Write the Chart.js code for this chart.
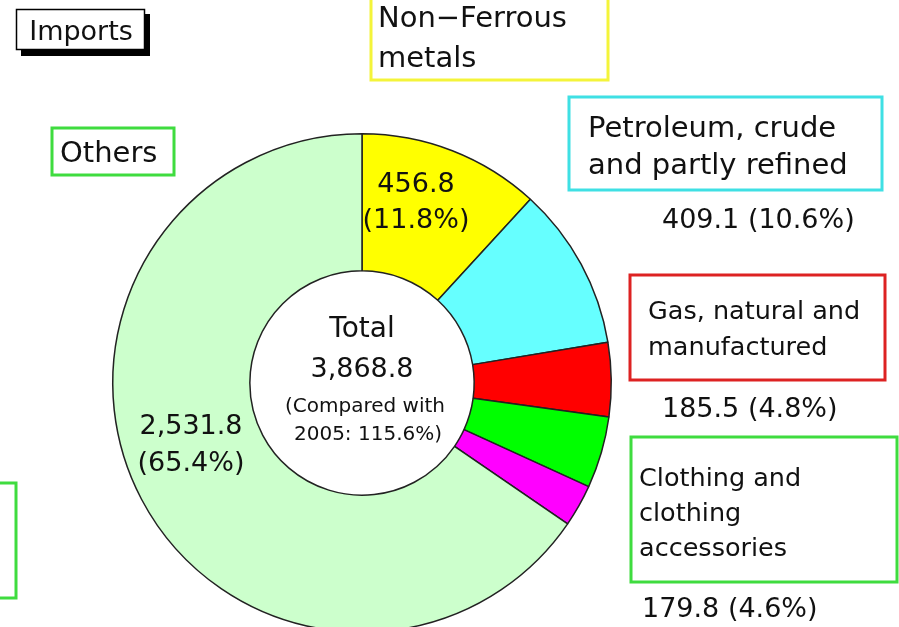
<!DOCTYPE html>
<html>
<head>
<meta charset="utf-8">
<script src="https://cdn.jsdelivr.net/npm/chart.js@4.4.1/dist/chart.umd.min.js"></script>
<style>
  html, body { margin: 0; padding: 0; background: #fff; overflow: hidden; }
  #wrap { position: absolute; left: 0; top: 0; width: 899px; height: 640px; }
</style>
</head>
<body>
<div id="wrap"><canvas id="chart" width="899" height="640"></canvas></div>
<script>
// data (billions)
var categories = ["Non-Ferrous metals", "Petroleum, crude and partly refined",
                  "Gas, natural and manufactured", "Clothing and clothing accessories",
                  "Other items", "Others"];
var values = [456.8, 409.1, 185.5, 179.8, 105.8, 2531.8];
var sliceColors = ["#ffff00", "#66ffff", "#ff0000", "#00ff00", "#ff00ff", "#ccffcc"];
var totalText = "3,868.8";
var comparedText = ["(Compared with", "2005: 115.6%)"];

var FONT = '"DejaVu Sans", "Noto Sans", sans-serif';
var DY = 2; // DejaVu sits a little high with textBaseline middle

function fmt(v) {
  return v.toLocaleString("en-US", {minimumFractionDigits: 1, maximumFractionDigits: 1});
}
function pct(i) {
  var sum = values.reduce(function(a, b) { return a + b; }, 0);
  return (values[i] / sum * 100).toFixed(1) + "%";
}

// callout boxes and text placement
var boxes = [
  {x: 371, y: -6, w: 237, h: 86, color: "#f4f43a", lines: ["Non\u2212Ferrous", "metals"], tx: 378, ty: [17, 57], size: 29},
  {x: 569, y: 97, w: 313, h: 93, color: "#3fe0e4", lines: ["Petroleum, crude", "and partly refined"], tx: 588, ty: [127, 164], size: 29},
  {x: 630, y: 275, w: 255, h: 105, color: "#dd2222", lines: ["Gas, natural and", "manufactured"], tx: 648, ty: [310, 346], size: 25.5},
  {x: 631, y: 437, w: 266, h: 145, color: "#3fdc3f", lines: ["Clothing and", "clothing", "accessories"], tx: 639, ty: [477, 512, 547], size: 25.5},
  {x: 52, y: 128, w: 122, h: 47, color: "#3fdc3f", lines: ["Others"], tx: 60, ty: [152], size: 29},
  {x: -10, y: 483, w: 26, h: 115, color: "#3fdc3f", lines: [], tx: 0, ty: [], size: 25}
];
var valueLabels = [
  {i: 0, x: 416, y: [183, 219], align: "center", split: true},
  {i: 1, x: 662, y: [219], align: "left"},
  {i: 2, x: 662, y: [408], align: "left"},
  {i: 3, x: 642, y: [608], align: "left"},
  {i: 5, x: 191, y: [425, 462], align: "center", split: true}
];

var annotations = {
  id: "annotations",
  afterDraw: function(chart) {
    var ctx = chart.ctx;
    ctx.save();
    ctx.textBaseline = "middle";

    // title box with shadow
    ctx.fillStyle = "#000";
    ctx.fillRect(21, 14, 129, 42);
    ctx.fillStyle = "#fff";
    ctx.fillRect(16, 9, 129, 41);
    ctx.strokeStyle = "#000";
    ctx.lineWidth = 1.5;
    ctx.strokeRect(16.5, 9.5, 128, 40);
    ctx.fillStyle = "#111";
    ctx.font = "27px " + FONT;
    ctx.textAlign = "center";
    ctx.fillText("Imports", 81, 31 + DY);

    boxes.forEach(function(b) {
      ctx.strokeStyle = b.color;
      ctx.lineWidth = 3;
      ctx.strokeRect(b.x, b.y, b.w, b.h);
      ctx.font = b.size + "px " + FONT;
      ctx.textAlign = "left";
      b.lines.forEach(function(t, k) { ctx.fillText(t, b.tx, b.ty[k] + DY); });
    });

    valueLabels.forEach(function(l) {
      ctx.font = "27px " + FONT;
      ctx.textAlign = l.align;
      var v = fmt(values[l.i]), p = "(" + pct(l.i) + ")";
      if (l.split) {
        ctx.fillText(v, l.x, l.y[0] + DY);
        ctx.fillText(p, l.x, l.y[1] + DY);
      } else {
        ctx.fillText(v + " " + p, l.x, l.y[0] + DY);
      }
    });

    // centre text
    var c = chart.getDatasetMeta(0).data[0];
    ctx.textAlign = "center";
    ctx.font = "28px " + FONT;
    ctx.fillText("Total", c.x, c.y - 55 + DY);
    ctx.font = "27px " + FONT;
    ctx.fillText(totalText, c.x, c.y - 15 + DY);
    ctx.font = "20px " + FONT;
    ctx.fillText(comparedText[0], c.x + 3, c.y + 22 + DY);
    ctx.fillText(comparedText[1], c.x + 6, c.y + 50 + DY);
    ctx.restore();
  }
};

new Chart(document.getElementById("chart"), {
  type: "doughnut",
  data: {
    labels: categories,
    datasets: [{
      data: values,
      backgroundColor: sliceColors,
      borderColor: "#222",
      borderWidth: 1.5
    }]
  },
  options: {
    responsive: false,
    animation: false,
    cutout: "45%",
    layout: {padding: {left: 112, right: 287, top: 133, bottom: 7}},
    plugins: {
      legend: {display: false},
      tooltip: {enabled: false}
    }
  },
  plugins: [annotations]
});
</script>
</body>
</html>
